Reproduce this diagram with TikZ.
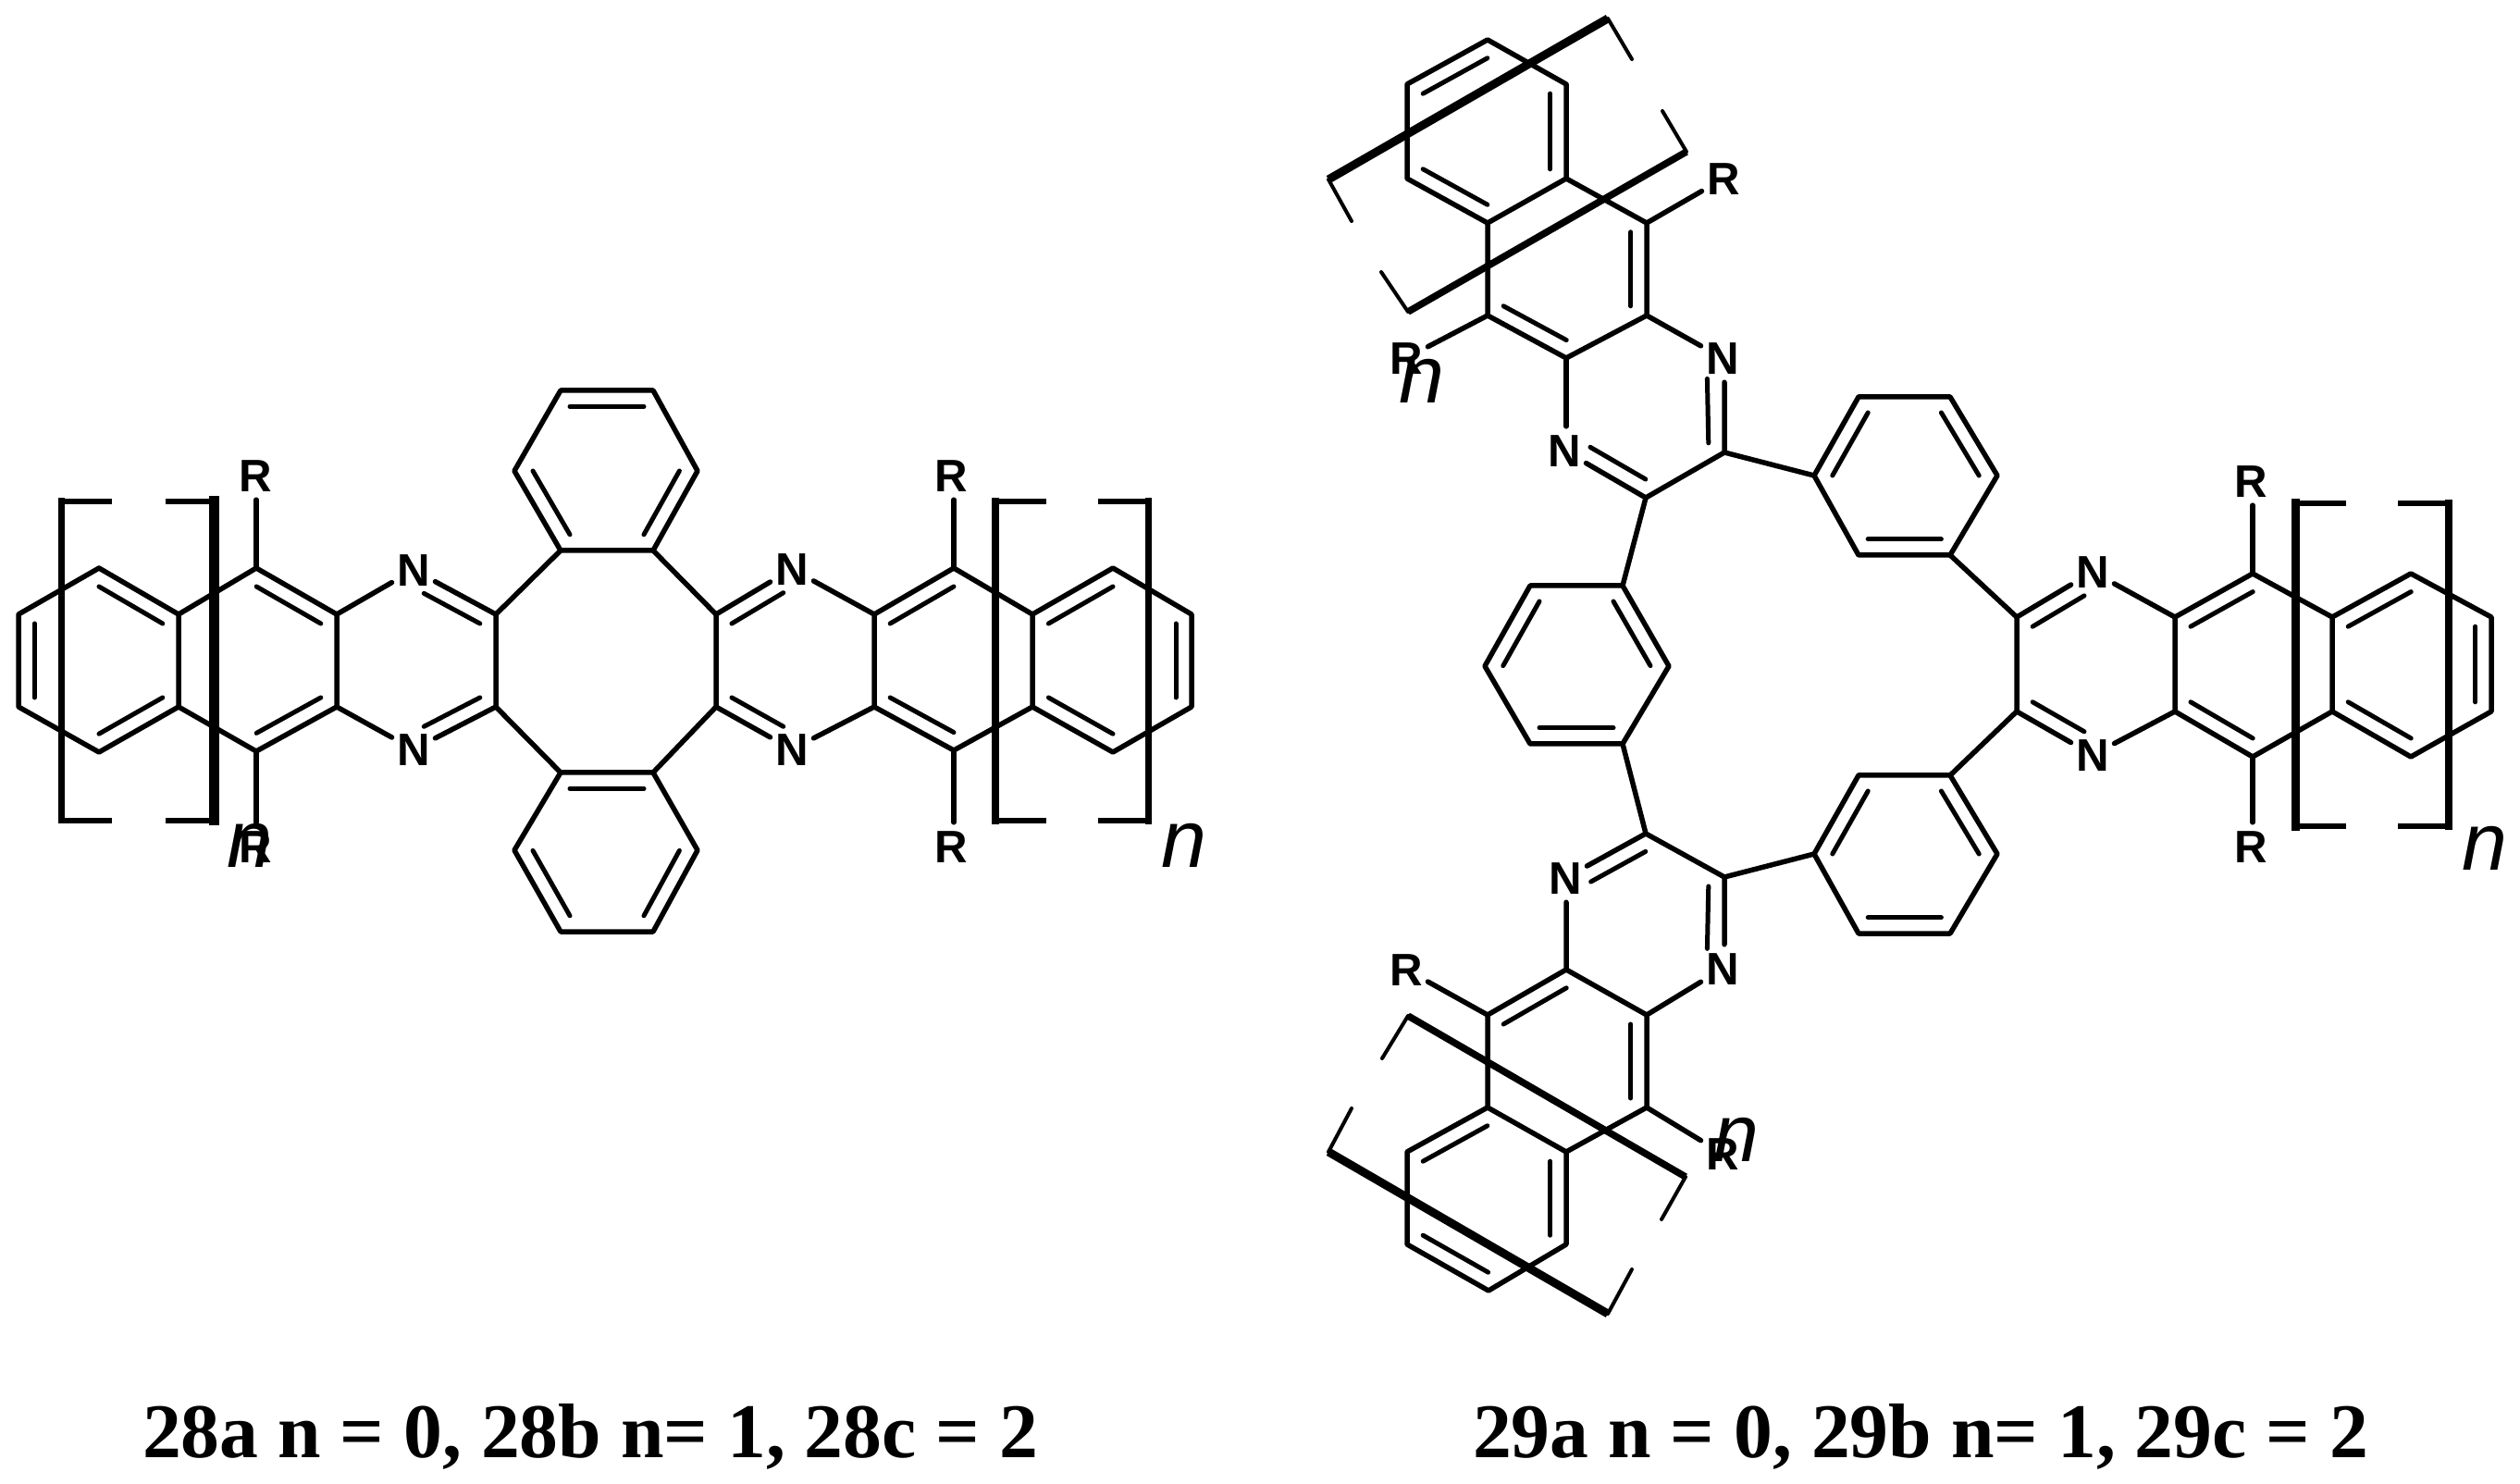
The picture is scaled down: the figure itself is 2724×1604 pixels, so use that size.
\documentclass[tikz,border=0pt]{standalone}
\usepackage{fontspec}
\setmainfont{Liberation Serif}
\newfontfamily\atomfont{Liberation Sans}[Scale=1]
\usetikzlibrary{calc}
\tikzset{
  bond/.style={line width=.55mm,line cap=round,line join=round,black},
  innerbond/.style={line width=.5mm,line cap=round,black},
  atom/.style={font=\atomfont\fontsize{14}{14}\selectfont\bfseries,inner xsep=.5mm,inner ysep=.8mm,text height=3.5mm,text depth=0pt,black},
  nlabel/.style={font=\atomfont\fontsize{25}{25}\selectfont\itshape,inner sep=0pt,text height=4.6mm,text depth=0pt,black},
  caption/.style={font=\fontsize{23.8}{24}\selectfont\bfseries,inner sep=0pt,anchor=base,black},
  tick/.style={line width=.6mm,line cap=rect,black},
  bar/.style={line cap=rect,black},
  skewtick/.style={line width=.4mm,line cap=round,black},
  skewbar/.style={line cap=butt,black}
}
\newcommand{\ib}[3]{\draw[innerbond] ($(#3)!.8!(#1)$) -- ($(#3)!.8!(#2)$);}
\newcommand{\ibn}[3]{\coordinate (tmpq) at ($(#1)!.85!(#2.center)$);\draw[innerbond] ($(#3)!.8!(#1)$) -- ($(#3)!.8!(tmpq)$);}
\begin{document}
\begin{tikzpicture}[x=.1mm,y=-.1mm]
\useasboundingbox (0,0) rectangle (2724,1604);
% ---------- molecule 28 ----------
\coordinate (a1) at (107,614);\coordinate (a2) at (193,664);\coordinate (a3) at (193,764);
\coordinate (a4) at (107,813);\coordinate (a5) at (20,764);\coordinate (a6) at (20,664);\coordinate (ca) at (107,714);
\coordinate (b1) at (277,614);\coordinate (b2) at (364,664);\coordinate (b3) at (364,764);\coordinate (b4) at (277,812);\coordinate (cb) at (278,714);
\node[atom] (Na) at (447,616) {N};\node[atom] (Nb) at (447,810) {N};
\coordinate (c1) at (536,664);\coordinate (c2) at (536,764);\coordinate (cc) at (450,714);
\coordinate (d1) at (606,595);\coordinate (d2) at (706,595);\coordinate (d3) at (774,664);\coordinate (d4) at (774,764);\coordinate (d5) at (706,835);\coordinate (d6) at (606,835);
\coordinate (e1) at (606,422);\coordinate (e2) at (706,422);\coordinate (e3) at (754,509);\coordinate (e4) at (556,509);\coordinate (ce) at (656,509);
\coordinate (f1) at (556,919);\coordinate (f2) at (606,1007);\coordinate (f3) at (706,1007);\coordinate (f4) at (754,919);\coordinate (cf) at (656,921);
\node[atom] (Nc) at (856,615) {N};\node[atom] (Nd) at (856,810) {N};\coordinate (cd) at (859,714);
\coordinate (g1) at (945,664);\coordinate (g2) at (945,764);
\coordinate (h1) at (1031,614);\coordinate (h2) at (1031,811);\coordinate (ch) at (1031,714);
\coordinate (i1) at (1116,664);\coordinate (i2) at (1116,764);
\coordinate (j1) at (1203,614);\coordinate (j2) at (1203,813);\coordinate (j3) at (1288,764);\coordinate (j4) at (1288,664);\coordinate (cj) at (1203,714);
\node[atom] (R1) at (276,514) {R};\node[atom] (R2) at (276,915) {R};
\node[atom] (R3) at (1028,514) {R};\node[atom] (R4) at (1028,915) {R};
\draw[bond] (a1) -- (a2) -- (a3) -- (a4) -- (a5) -- (a6) -- (a1);
\draw[bond] (a2) -- (b1) -- (b2) -- (b3) -- (b4) -- (a3);
\draw[bond] (b2) -- (Na);\draw[bond] (b3) -- (Nb);
\draw[bond] (Na) -- (c1) -- (c2) -- (Nb);
\draw[bond] (c1) -- (d1) -- (d2) -- (d3) -- (d4) -- (d5) -- (d6) -- (c2);
\draw[bond] (d1) -- (e4) -- (e1) -- (e2) -- (e3) -- (d2);
\draw[bond] (d6) -- (f1) -- (f2) -- (f3) -- (f4) -- (d5);
\draw[bond] (Nc) -- (d3);\draw[bond] (d4) -- (Nd);
\draw[bond] (Nc) -- (g1) -- (g2) -- (Nd);
\draw[bond] (g1) -- (h1) -- (i1) -- (i2) -- (h2) -- (g2);
\draw[bond] (i1) -- (j1) -- (j4) -- (j3) -- (j2) -- (i2);
\draw[bond] (b1) -- (b1 |- R1.south);\draw[bond] (b4) -- (b4 |- R2.north);\draw[bond] (h1) -- (h1 |- R3.south);\draw[bond] (h2) -- (h2 |- R4.north);
\ib{a1}{a2}{ca}\ib{a3}{a4}{ca}\ib{a5}{a6}{ca}
\ib{b1}{b2}{cb}\ib{b3}{b4}{cb}
\ibn{c1}{Na}{cc}\ibn{c2}{Nb}{cc}
\ib{d1}{e4}{ce}\ib{d2}{e3}{ce}\ib{e1}{e2}{ce}
\ib{d5}{d6}{cf}\ib{f1}{f2}{cf}\ib{f3}{f4}{cf}
\ibn{d3}{Nc}{cd}\ibn{d4}{Nd}{cd}
\ib{g1}{h1}{ch}\ib{g2}{h2}{ch}
\ib{i1}{j1}{cj}\ib{i2}{j2}{cj}\ib{j3}{j4}{cj}
% brackets of 28
\draw[tick] (118,542) -- (66.5,542);\draw[tick] (66.5,887) -- (118,887);
\draw[bar,line width=.7mm] (66.5,542) -- (66.5,887);
\draw[tick] (182,542) -- (231.5,542);\draw[tick] (182,887) -- (231.5,887);
\draw[bar,line width=1.1mm] (231.5,542) -- (231.5,887);
\draw[tick] (1128,542) -- (1076,542);\draw[tick] (1076,887) -- (1128,887);
\draw[bar,line width=.8mm] (1076,542) -- (1076,887);
\draw[tick] (1190,542) -- (1241.7,542);\draw[tick] (1190,887) -- (1241.7,887);
\draw[bar,line width=.75mm] (1241.7,542) -- (1241.7,887);
\node[nlabel] (n1) at (270,915) {n};
\node[nlabel] (n2) at (1280,915) {n};
% ---------- molecule 29 ----------
% upper arm
\coordinate (p1) at (1693,91);\coordinate (p2) at (1608,43);\coordinate (p3) at (1521,91);\coordinate (p4) at (1521,193);
\coordinate (p5) at (1608,241);\coordinate (p6) at (1693,193);\coordinate (cp) at (1607,142);
\coordinate (q1) at (1780,241);\coordinate (q2) at (1780,341);\coordinate (q3) at (1693,387);\coordinate (q4) at (1608,341);\coordinate (cq) at (1694,290);
\node[atom] (Ne) at (1862,387) {N};\node[atom] (Nf) at (1691,487) {N};
\coordinate (s1) at (1864,489);\coordinate (s2) at (1779,538);\coordinate (cs) at (1778,438);
\node[atom] (R5) at (1863,193) {R};\node[atom] (R6) at (1520,387) {R};
% left central ring
\coordinate (t1) at (1754,633);\coordinate (t2) at (1654,633);\coordinate (t3) at (1605,720);\coordinate (t4) at (1654,804);\coordinate (t5) at (1754,804);\coordinate (t6) at (1804,720);\coordinate (ct) at (1704,718);
% upper right ring
\coordinate (u1) at (2009,429);\coordinate (u2) at (2108,429);\coordinate (u3) at (2159,514);\coordinate (u4) at (2108,600);\coordinate (u5) at (2009,600);\coordinate (u6) at (1961,514);\coordinate (cu) at (2060,514);
% lower right ring
\coordinate (v1) at (2009,838);\coordinate (v2) at (2108,838);\coordinate (v3) at (2159,923);\coordinate (v4) at (2108,1009);\coordinate (v5) at (2009,1009);\coordinate (v6) at (1961,923);\coordinate (cv) at (2060,923);
% lower arm
\coordinate (w1) at (1779,901);\coordinate (w2) at (1864,948);\coordinate (cw) at (1778,998);
\node[atom] (Ng) at (1692,949) {N};\node[atom] (Nh) at (1862,1047) {N};
\coordinate (x1) at (1693,1048);\coordinate (x2) at (1608,1097);\coordinate (x3) at (1608,1197);\coordinate (x4) at (1693,1245);\coordinate (x5) at (1780,1197);\coordinate (x6) at (1780,1097);\coordinate (cx) at (1694,1147);
\coordinate (y1) at (1521,1245);\coordinate (y2) at (1521,1345);\coordinate (y3) at (1609,1395);\coordinate (y4) at (1693,1345);\coordinate (cy) at (1607,1296);
\node[atom] (R7) at (1520,1048) {R};\node[atom] (R8) at (1862,1247) {R};
% right arm
\coordinate (z1) at (2180,667);\coordinate (z2) at (2180,769);\coordinate (cz) at (2266,718);
\node[atom] (Ni) at (2262,618) {N};\node[atom] (Nj) at (2262,816) {N};
\coordinate (k1) at (2351,667);\coordinate (k2) at (2351,769);\coordinate (k3) at (2435,620);\coordinate (k4) at (2435,818);\coordinate (ck) at (2436,718);
\coordinate (m1) at (2521,667);\coordinate (m2) at (2521,769);\coordinate (m3) at (2606,620);\coordinate (m4) at (2606,818);\coordinate (m5) at (2693,667);\coordinate (m6) at (2693,769);\coordinate (cm) at (2607,718);
\node[atom] (R9) at (2433,520) {R};\node[atom] (R10) at (2433,915) {R};
\draw[bond] (p1) -- (p2) -- (p3) -- (p4) -- (p5) -- (p6) -- (p1);
\draw[bond] (p6) -- (q1) -- (q2) -- (q3) -- (q4) -- (p5);
\draw[bond] (q2) -- (Ne);\draw[bond] (q3) -- (q3 |- Nf.north);
\draw[bond] (s1 |- Ne.south) -- (s1) -- (s2) -- (Nf);
\draw[bond] (q1) -- (R5);\draw[bond] (q4) -- (R6);
\draw[bond] (s1) -- (u6);\draw[bond] (s2) -- (t1);
\draw[bond] (t1) -- (t2) -- (t3) -- (t4) -- (t5) -- (t6) -- (t1);
\draw[bond] (t5) -- (w1);
\draw[bond] (u1) -- (u2) -- (u3) -- (u4) -- (u5) -- (u6) -- (u1);
\draw[bond] (v1) -- (v2) -- (v3) -- (v4) -- (v5) -- (v6) -- (v1);
\draw[bond] (u4) -- (z1);\draw[bond] (v2) -- (z2);
\draw[bond] (w2) -- (v6);
\draw[bond] (Ng) -- (w1) -- (w2) -- (w2 |- Nh.north);
\draw[bond] (x1 |- Ng.south) -- (x1) -- (x2) -- (x3) -- (x4) -- (x5) -- (x6) -- (x1);
\draw[bond] (x6) -- (Nh);
\draw[bond] (x3) -- (y1) -- (y2) -- (y3) -- (y4) -- (x4);
\draw[bond] (x2) -- (R7);\draw[bond] (x5) -- (R8);
\draw[bond] (Ni) -- (z1) -- (z2) -- (Nj);
\draw[bond] (Ni) -- (k1) -- (k2) -- (Nj);
\draw[bond] (k1) -- (k3) -- (m1) -- (m2) -- (k4) -- (k2);
\draw[bond] (m1) -- (m3) -- (m5) -- (m6) -- (m4) -- (m2);
\draw[bond] (k3) -- (k3 |- R9.south);\draw[bond] (k4) -- (k4 |- R10.north);
\ib{p2}{p3}{cp}\ib{p1}{p6}{cp}\ib{p4}{p5}{cp}
\ib{q1}{q2}{cq}\ib{q3}{q4}{cq}
\ibn{s1}{Ne}{cs}\ibn{s2}{Nf}{cs}
\ib{t2}{t3}{ct}\ib{t1}{t6}{ct}\ib{t4}{t5}{ct}
\ib{u6}{u1}{cu}\ib{u2}{u3}{cu}\ib{u4}{u5}{cu}
\ib{v6}{v1}{cv}\ib{v2}{v3}{cv}\ib{v4}{v5}{cv}
\ibn{w1}{Ng}{cw}\ibn{w2}{Nh}{cw}
\ib{x1}{x2}{cx}\ib{x5}{x6}{cx}
\ib{x3}{y1}{cy}\ib{x4}{y4}{cy}\ib{y2}{y3}{cy}
\ibn{z1}{Ni}{cz}\ibn{z2}{Nj}{cz}
\ib{k1}{k3}{ck}\ib{k2}{k4}{ck}
\ib{m1}{m3}{cm}\ib{m2}{m4}{cm}\ib{m5}{m6}{cm}
% brackets of 29
\draw[skewtick] (1461,239) -- (1436,194);\draw[skewbar,line width=.9mm] (1436,194) -- (1738,20);\draw[skewtick] (1738,20) -- (1764,64);
\draw[skewtick] (1493,294) -- (1522,337);\draw[skewbar,line width=.75mm] (1522,337) -- (1823,164);\draw[skewtick] (1823,164) -- (1797,120);
\draw[skewtick] (1461,1198) -- (1436,1245);\draw[skewbar,line width=.9mm] (1436,1245) -- (1738,1420);\draw[skewtick] (1738,1420) -- (1764,1372);
\draw[skewtick] (1494,1144) -- (1522,1098);\draw[skewbar,line width=.75mm] (1522,1098) -- (1822,1272);\draw[skewtick] (1822,1272) -- (1796,1318);
\draw[tick] (2533,544) -- (2481.6,544);\draw[tick] (2481.6,893.5) -- (2533,893.5);
\draw[bar,line width=.9mm] (2481.6,544) -- (2481.6,893.5);
\draw[tick] (2595,544) -- (2647,544);\draw[tick] (2595,893.5) -- (2647,893.5);
\draw[bar,line width=.8mm] (2647,544) -- (2647,893.5);
\node[nlabel] (n3) at (1537,413) {n};
\node[nlabel] (n4) at (1877,1232) {n};
\node[nlabel] (n5) at (2686,918) {n};
% captions
\node[caption] (cap1) at (638,1575) {28a n = 0, 28b n= 1, 28c = 2};
\node[caption] (cap2) at (2076,1575) {29a n = 0, 29b n= 1, 29c = 2};
\end{tikzpicture}
\end{document}
